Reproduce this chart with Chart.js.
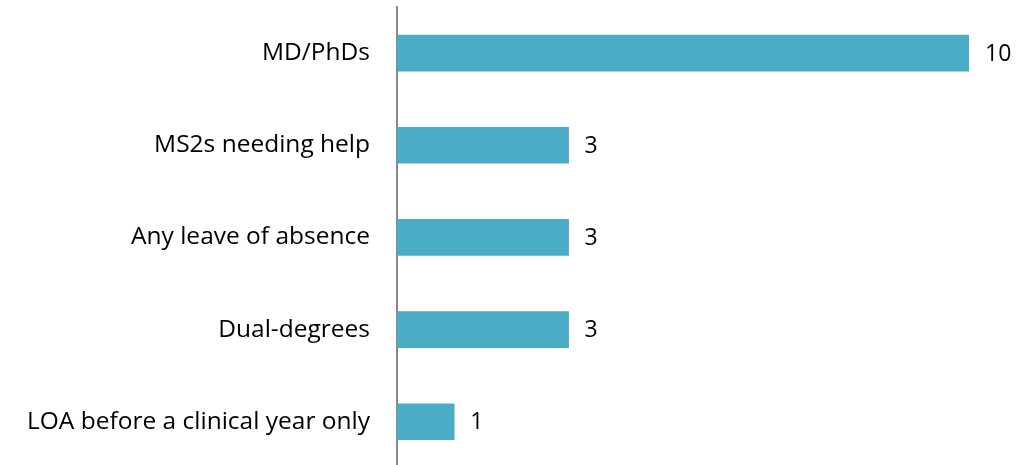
<!DOCTYPE html>
<html>
<head>
<meta charset="utf-8">
<script src="https://cdn.jsdelivr.net/npm/chart.js@4"></script>
<style>
  html, body { margin: 0; padding: 0; background: #fff; overflow: hidden; }
  #wrap { width: 1016px; height: 474px; }
</style>
</head>
<body>
<div id="wrap"><canvas id="bar-chart"></canvas></div>
<script>
const categories = ["MD/PhDs", "MS2s needing help", "Any leave of absence", "Dual-degrees", "LOA before a clinical year only"];
const counts = [10, 3, 3, 3, 1];

const valueLabels = {
    id: "valueLabels",
    afterDatasetsDraw(chart) {
        const ctx = chart.ctx;
        ctx.save();
        ctx.font = "23px 'Open Sans'";
        ctx.fillStyle = "#000";
        ctx.textBaseline = "middle";
        chart.getDatasetMeta(0).data.forEach(function(bar, i) {
            ctx.fillText(counts[i], bar.x + 16, bar.y + 1);
        });
        ctx.restore();
    }
};

new Chart(document.getElementById("bar-chart"), {
    type: "bar",
    data: {
        labels: categories,
        datasets: [{
            data: counts,
            backgroundColor: "#4BACC6",
            barThickness: 36
        }]
    },
    options: {
        indexAxis: "y",
        responsive: true,
        maintainAspectRatio: false,
        animation: false,
        layout: { padding: { top: 7, right: 47, bottom: 0, left: 0 } },
        plugins: {
            legend: { display: false },
            tooltip: { enabled: false }
        },
        scales: {
            x: {
                display: false,
                min: 0,
                max: 10
            },
            y: {
                afterFit: function(scale) { scale.width = 397; },
                grid: {
                    display: true,
                    drawOnChartArea: false,
                    drawTicks: true,
                    tickLength: 27,
                    tickColor: "rgba(0,0,0,0)"
                },
                border: { display: true, color: "#888", width: 2 },
                ticks: {
                    color: "#000",
                    padding: 0,
                    font: { family: "Open Sans", size: 24.5, lineHeight: 0.5 }
                }
            }
        }
    },
    plugins: [valueLabels]
});
</script>
</body>
</html>
